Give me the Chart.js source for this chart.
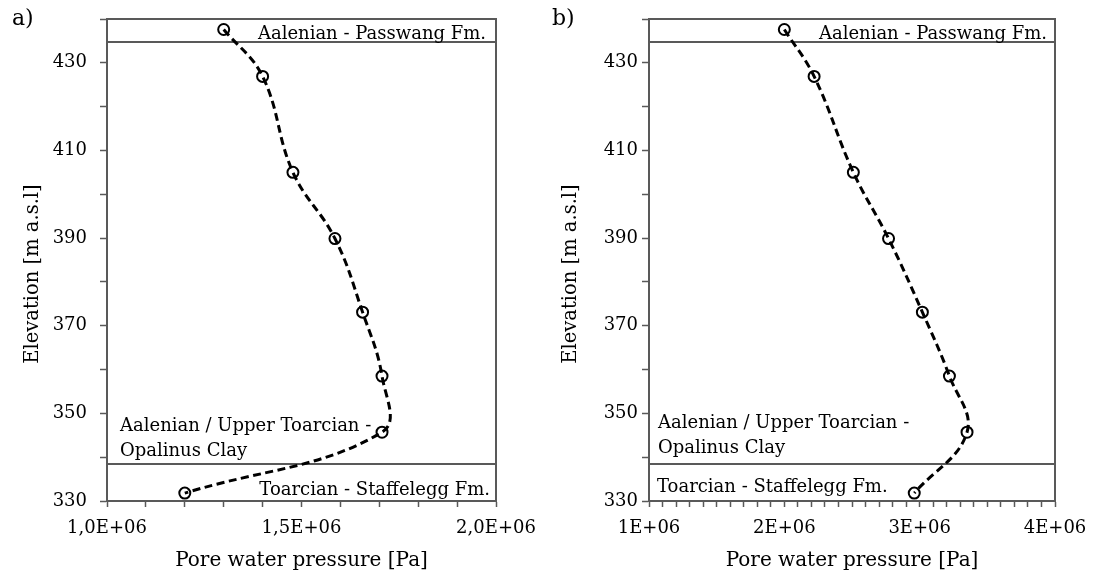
<!DOCTYPE html>
<html>
<head>
<meta charset="utf-8">
<script src="https://cdn.jsdelivr.net/npm/chart.js@4.4.1/dist/chart.umd.min.js"></script>
<style>
html, body { margin: 0; padding: 0; background: #fff; }
#wrap { position: relative; width: 1094px; height: 578px; overflow: hidden; }
canvas { position: absolute; top: 0; }
#cA { left: 0; }
#cB { left: 540px; }
</style>
</head>
<body>
<div id="wrap">
  <canvas id="cA" width="540" height="578"></canvas>
  <canvas id="cB" width="554" height="578"></canvas>
</div>
<script>
// elevation of the measuring points [m a.s.l]
var elevation = [437.6, 426.9, 405.0, 389.9, 373.1, 358.5, 345.7, 331.8];
// pore water pressure [Pa] at each point
var pressureA = [1.300e6, 1.400e6, 1.478e6, 1.586e6, 1.657e6, 1.707e6, 1.707e6, 1.200e6];
var pressureB = [2.00e6, 2.22e6, 2.51e6, 2.77e6, 3.02e6, 3.22e6, 3.35e6, 2.96e6];
// formation boundaries [m a.s.l]
var boundaries = [434.8, 338.4];
var unitNames = ["Aalenian - Passwang Fm.", "Aalenian / Upper Toarcian -", "Opalinus Clay", "Toarcian - Staffelegg Fm."];

var grey = '#595959';
var serif = 'DejaVu Serif';

function points(pressure) {
    var pts = [];
    for (var i = 0; i < elevation.length; i++) {
        pts.push({ x: pressure[i], y: elevation[i] });
    }
    return pts;
}

// frame, formation boundaries, unit names, y title and panel letter
var strata = {
    id: 'strata',
    beforeDatasetsDraw: function (chart) {
        var ctx = chart.ctx, a = chart.chartArea, y = chart.scales.y;
        ctx.save();
        ctx.strokeStyle = grey;
        ctx.lineWidth = 2;
        ctx.beginPath();
        ctx.moveTo(a.left, a.top);
        ctx.lineTo(a.right, a.top);
        ctx.lineTo(a.right, a.bottom);
        for (var i = 0; i < boundaries.length; i++) {
            var py = Math.round(y.getPixelForValue(boundaries[i]));
            ctx.moveTo(a.left, py);
            ctx.lineTo(a.right, py);
        }
        ctx.stroke();
        ctx.restore();
    },
    afterDraw: function (chart, args, opts) {
        var ctx = chart.ctx, a = chart.chartArea;
        ctx.save();
        ctx.fillStyle = '#000';
        ctx.textBaseline = 'alphabetic';
        ctx.font = '18px "' + serif + '"';
        opts.labels.forEach(function (l) {
            if (l.side === 'right') {
                ctx.textAlign = 'right';
                ctx.fillText(unitNames[l.name], a.right - l.dx, l.y);
            } else {
                ctx.textAlign = 'left';
                ctx.fillText(unitNames[l.name], a.left + l.dx, l.y);
            }
        });

        ctx.font = '22px "' + serif + '"';
        ctx.textAlign = 'left';
        ctx.fillText(opts.letter, opts.letterX, 25);

        ctx.translate(opts.titleX, 274);
        ctx.rotate(-Math.PI / 2);
        ctx.font = '19.5px "' + serif + '"';
        ctx.textAlign = 'center';
        ctx.textBaseline = 'middle';
        ctx.fillText('Elevation [m a.s.l]', 0, 0);
        ctx.restore();
    }
};

function makeChart(id, pressure, cfg) {
    return new Chart(document.getElementById(id), {
        type: 'scatter',
        data: {
            datasets: [{
                data: points(pressure),
                showLine: true,
                tension: 0.4,
                borderColor: '#000',
                borderWidth: 3,
                borderDash: [8, 4.5],
                pointRadius: 5.5,
                pointBorderWidth: 2,
                pointBorderColor: '#000',
                pointBackgroundColor: 'rgba(0,0,0,0)'
            }]
        },
        options: {
            responsive: false,
            animation: false,
            layout: { padding: { top: 19, right: cfg.padRight, bottom: 0, left: 0 } },
            plugins: {
                legend: { display: false },
                tooltip: { enabled: false },
                strata: {
                    letter: cfg.letter,
                    letterX: cfg.letterX,
                    titleX: cfg.titleX,
                    labels: cfg.labels
                }
            },
            scales: {
                x: {
                    type: 'linear',
                    min: cfg.xMin,
                    max: cfg.xMax,
                    afterFit: function (s) {
                        s.height = 77;
                        s.paddingLeft = 0;
                        s.paddingRight = 0;
                    },
                    border: { display: true, color: grey, width: 2 },
                    grid: { drawOnChartArea: false, drawTicks: true, tickLength: 6, tickColor: grey, tickWidth: 1.5 },
                    ticks: {
                        stepSize: 1e5,
                        autoSkip: false,
                        maxRotation: 0,
                        padding: 11,
                        color: '#000',
                        font: { family: serif, size: 18 },
                        callback: cfg.xLabel
                    },
                    title: {
                        display: true,
                        text: 'Pore water pressure [Pa]',
                        color: '#000',
                        font: { family: serif, size: 20 },
                        padding: { top: 0, bottom: 5 }
                    }
                },
                y: {
                    type: 'linear',
                    min: 330,
                    max: 440,
                    afterFit: function (s) {
                        s.width = cfg.yWidth;
                        s.paddingTop = 0;
                        s.paddingBottom = 0;
                    },
                    border: { display: true, color: grey, width: 2 },
                    grid: { drawOnChartArea: false, drawTicks: true, tickLength: 7, tickColor: grey, tickWidth: 1.5 },
                    ticks: {
                        stepSize: 10,
                        autoSkip: false,
                        padding: cfg.yPad,
                        color: '#000',
                        font: { family: serif, size: 18 },
                        callback: function (v) { return (Math.round(v) - 330) % 20 === 0 ? v : ''; }
                    }
                }
            }
        },
        plugins: [strata]
    });
}

var chartA = makeChart('cA', pressureA, {
    letter: 'a)', letterX: 12, titleX: 33,
    xMin: 1e6, xMax: 2e6, yWidth: 107, yPad: 13, padRight: 44,
    xLabel: function (v) {
        var k = Math.round(v / 1e5);
        return k % 5 === 0 ? (v / 1e6).toFixed(1).replace('.', ',') + 'E+06' : '';
    },
    labels: [
        { name: 0, side: 'right', dx: 10, y: 39 },
        { name: 1, side: 'left', dx: 13, y: 431 },
        { name: 2, side: 'left', dx: 13, y: 456 },
        { name: 3, side: 'right', dx: 6, y: 495 }
    ]
});

var chartB = makeChart('cB', pressureB, {
    letter: 'b)', letterX: 12, titleX: 31,
    xMin: 1e6, xMax: 4e6, yWidth: 109, yPad: 4, padRight: 39,
    xLabel: function (v) {
        var k = Math.round(v / 1e5);
        return k % 10 === 0 ? Math.round(v / 1e6) + 'E+06' : '';
    },
    labels: [
        { name: 0, side: 'right', dx: 8, y: 39 },
        { name: 1, side: 'left', dx: 9, y: 428 },
        { name: 2, side: 'left', dx: 9, y: 453 },
        { name: 3, side: 'left', dx: 8, y: 492 }
    ]
});
</script>
</body>
</html>
